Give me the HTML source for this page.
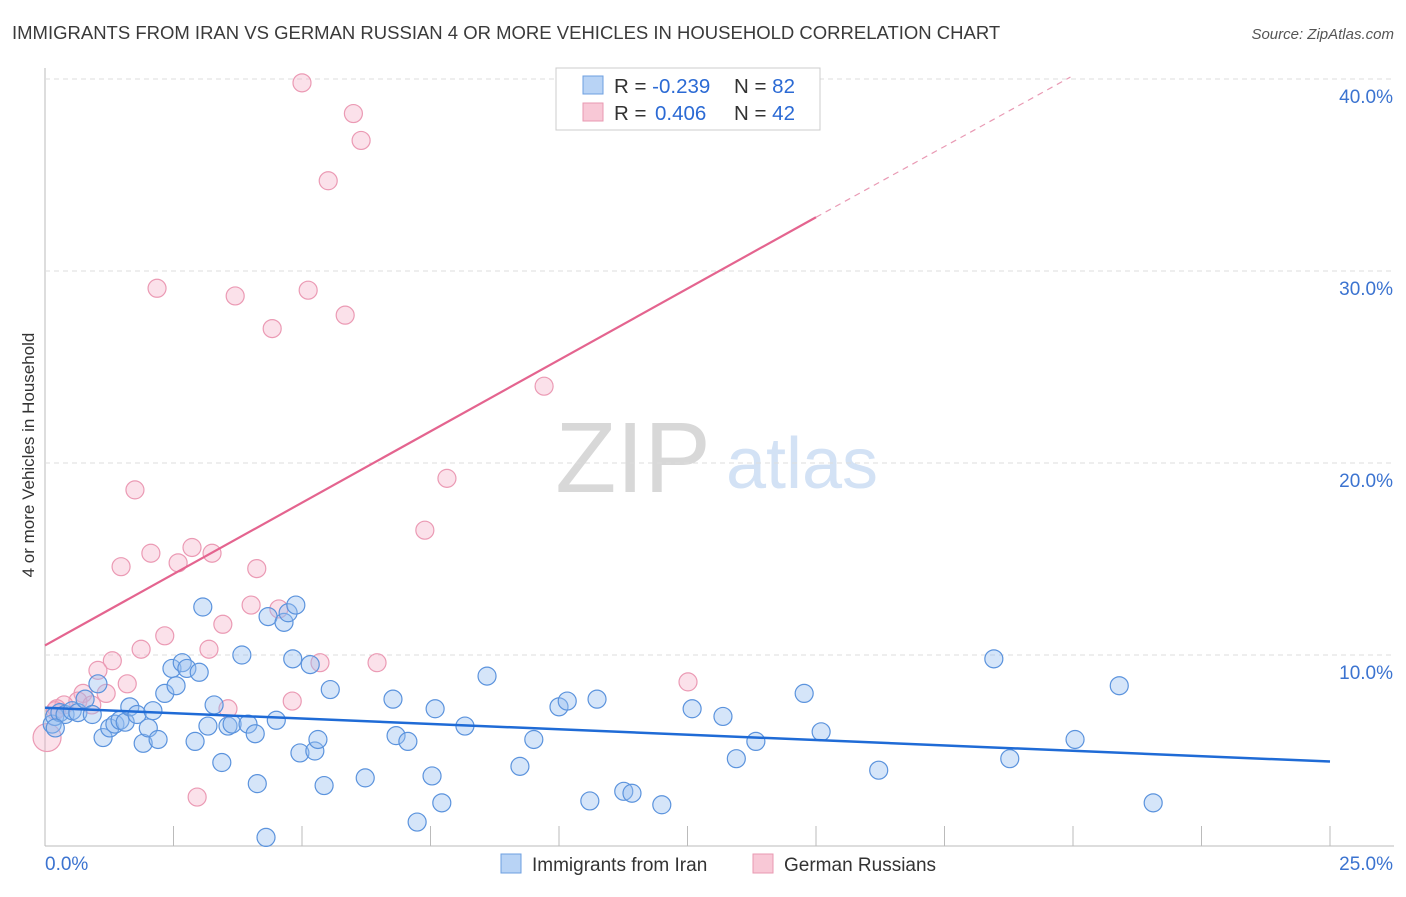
<!DOCTYPE html>
<html><head><meta charset="utf-8"><style>
body{margin:0;background:#fff;font-family:"Liberation Sans",sans-serif;}
svg text{font-family:"Liberation Sans",sans-serif;}
</style></head><body>
<svg id="chart" width="1406" height="892" xmlns="http://www.w3.org/2000/svg">
<text x="12" y="39" font-size="18.5" fill="#3a3a3a">IMMIGRANTS FROM IRAN VS GERMAN RUSSIAN 4 OR MORE VEHICLES IN HOUSEHOLD CORRELATION CHART</text>
<text x="1394" y="39" font-size="15" fill="#555" text-anchor="end" font-style="italic">Source: ZipAtlas.com</text>
<text x="633" y="492" font-size="100" fill="#d8d8d8" font-family="Liberation Serif" text-anchor="middle">ZIP</text>
<text x="802" y="488" font-size="72" fill="#d3e2f5" text-anchor="middle">atlas</text>
<text transform="translate(34,455) rotate(-90)" font-size="17" fill="#333" text-anchor="middle">4 or more Vehicles in Household</text>
<g id="grid"></g><g id="pts"></g><g id="lines"></g>
<g>
<rect x="556" y="68" width="264" height="62" fill="#fff" stroke="#ccc"/>
<rect x="583" y="76" width="20" height="18" fill="#b8d3f5" stroke="#6d9fe0"/>
<rect x="583" y="103" width="20" height="18" fill="#f8c8d6" stroke="#e899b1"/>
<text x="614" y="93" font-size="20.5" fill="#333">R = <tspan fill="#2b6ad4">-0.239</tspan><tspan x="734">N = </tspan><tspan fill="#2b6ad4">82</tspan></text>
<text x="614" y="120" font-size="20.5" fill="#333">R = <tspan x="655" fill="#2b6ad4">0.406</tspan><tspan x="734">N = </tspan><tspan fill="#2b6ad4">42</tspan></text>
</g>
<g>
<rect x="501" y="854" width="20" height="19" fill="#b8d3f5" stroke="#6d9fe0"/>
<text x="532" y="871" font-size="19" fill="#333">Immigrants from Iran</text>
<rect x="753" y="854" width="20" height="19" fill="#f8c8d6" stroke="#e899b1"/>
<text x="784" y="871" font-size="19" fill="#333">German Russians</text>
</g>
</svg>
<script>
const xTicks=[0,2.5,5,7.5,10,12.5,15,17.5,20,22.5,25];
const yTicks=[10,20,30,40];
const yTickLabels=["10.0%","20.0%","30.0%","40.0%"];
const iranX=[0.14,0.19,0.29,0.39,0.53,0.64,0.78,0.92,1.03,1.13,1.26,1.36,1.46,1.56,1.65,1.79,1.91,2.01,2.1,2.2,2.33,2.47,2.55,2.67,2.76,2.92,3.0,3.07,3.17,3.29,3.44,3.56,3.64,3.83,3.95,4.09,4.13,4.3,4.34,4.5,4.65,4.73,4.82,4.88,4.96,5.16,5.25,5.31,5.43,5.55,6.23,6.77,6.83,7.06,7.24,7.53,7.59,7.72,8.17,8.6,9.24,9.51,10.0,10.16,10.6,10.74,11.26,11.42,12.0,12.59,13.19,13.45,13.83,14.77,15.1,16.22,18.46,18.77,20.04,20.9,21.56,0.2];
const iranY=[6.4,6.8,7.0,6.9,7.1,7.0,7.7,6.9,8.5,5.7,6.2,6.4,6.6,6.5,7.3,6.9,5.4,6.2,7.1,5.6,8.0,9.3,8.4,9.6,9.3,5.5,9.1,12.5,6.3,7.4,4.4,6.3,6.4,10.0,6.4,5.9,3.3,0.5,12.0,6.6,11.7,12.2,9.8,12.6,4.9,9.5,5.0,5.6,3.2,8.2,3.6,7.7,5.8,5.5,1.3,3.7,7.2,2.3,6.3,8.9,4.2,5.6,7.3,7.6,2.4,7.7,2.9,2.8,2.2,7.2,6.8,4.6,5.5,8.0,6.0,4.0,9.8,4.6,5.6,8.4,2.3,6.2];
const ruX=[5.0,6.0,6.15,5.51,2.18,3.7,5.12,4.42,5.84,9.71,7.82,1.75,7.39,2.06,2.86,3.25,1.48,2.59,4.12,4.01,4.55,3.46,2.33,1.87,3.19,1.31,5.35,6.46,1.03,1.6,12.51,1.19,0.74,0.64,0.37,0.91,4.81,3.56,0.23,2.96,0.04,0.2];
const ruY=[39.8,38.2,36.8,34.7,29.1,28.7,29.0,27.0,27.7,24.0,19.2,18.6,16.5,15.3,15.6,15.3,14.6,14.8,14.5,12.6,12.4,11.6,11.0,10.3,10.3,9.7,9.6,9.6,9.2,8.5,8.6,8.0,8.0,7.6,7.4,7.4,7.6,7.2,7.2,2.6,5.7,7.1];
const X=v=>45+v/25*1285, Y=v=>847-v*19.2;
const NS="http://www.w3.org/2000/svg";
function mk(t,a,p){const e=document.createElementNS(NS,t);for(const k in a)e.setAttribute(k,a[k]);p.appendChild(e);return e;}
const grid=document.getElementById('grid'),pts=document.getElementById('pts'),lines=document.getElementById('lines');
mk('line',{x1:45,y1:68,x2:45,y2:846,stroke:'#bbb'},grid);
mk('line',{x1:45,y1:846,x2:1394,y2:846,stroke:'#bbb'},grid);
yTicks.forEach((t,i)=>{
 const g=mk('line',{x1:45,y1:Y(t),x2:1394,y2:Y(t),stroke:'#ddd','stroke-dasharray':'5,4'},grid);
 
 
 const tx=mk('text',{x:1393,y:Y(t)+24,'font-size':19,fill:'#3b73d0','text-anchor':'end'},grid);tx.textContent=yTickLabels[i];
 
 
});
xTicks.forEach(t=>{
 const l=mk('line',{x1:X(t),y1:826,x2:X(t),y2:846,stroke:'#bbb'},grid);
 
 
});
const xl0=mk('text',{x:45,y:870,'font-size':19,fill:'#3b73d0'},grid);xl0.textContent='0.0%';


const xl1=mk('text',{x:1393,y:870,'font-size':19,fill:'#3b73d0','text-anchor':'end'},grid);xl1.textContent='25.0%';


ruX.forEach((v,i)=>{
 const c=mk('circle',{cx:X(v),cy:Y(ruY[i]),r:(i===40?14:9),fill:'rgba(244,170,195,0.35)',stroke:'#eb9ab4','stroke-width':1.2},pts);
 
 
});
iranX.forEach((v,i)=>{
 const c=mk('circle',{cx:X(v),cy:Y(iranY[i]),r:9,fill:'rgba(150,190,240,0.4)',stroke:'#5b93dd','stroke-width':1.2},pts);
 
 
});
const b=mk('line',{x1:X(0),y1:Y(7.25),x2:X(25),y2:Y(4.45),stroke:'#1f6bd6','stroke-width':2.5},lines);


const p=mk('line',{x1:X(0),y1:Y(10.5),x2:X(15),y2:Y(32.8),stroke:'#e4648f','stroke-width':2.2},lines);


const pd=mk('line',{x1:X(15),y1:Y(32.8),x2:X(19.95),y2:Y(40.1),stroke:'#e99ab4','stroke-width':1.2,'stroke-dasharray':'6,5'},lines);


</script>
</body></html>
